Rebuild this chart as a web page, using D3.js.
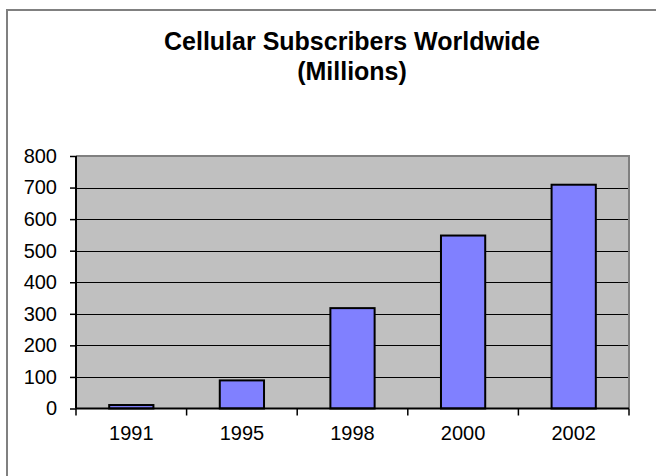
<!DOCTYPE html>
<html><head><meta charset="utf-8">
<script src="https://cdn.jsdelivr.net/npm/d3@7"></script>
<style>body{margin:0;background:#fff}svg{display:block}</style>
</head><body>
<script>
const categories = ["1991","1995","1998","2000","2002"];
const values = [11, 89, 318, 548, 709];
const yTicks = [0,100,200,300,400,500,600,700,800];
const titleLines = ["Cellular Subscribers Worldwide","(Millions)"];

const W = 656, H = 476;
const svg = d3.select("body").append("svg").attr("width", W).attr("height", H);
svg.append("rect").attr("x",0).attr("y",0).attr("width",W).attr("height",H).attr("fill","#fff");
// outer chart border
svg.append("rect").attr("x",7).attr("y",10).attr("width",W+10).attr("height",H+10)
  .attr("fill","none").attr("stroke","#808080").attr("stroke-width",2);

const L = 76, R = 629, T = 156, B = 408.5;
const x = d3.scaleBand().domain(categories).range([L,R]).paddingInner(0.6).paddingOuter(0.3);
const xb = d3.scaleBand().domain(categories).range([L,R]);
const y = d3.scaleLinear().domain([0,800]).range([B,T]);

svg.append("rect").attr("x",L).attr("y",T).attr("width",R-L).attr("height",B-T).attr("fill","#c0c0c0");
// gridlines
svg.append("g").selectAll("line").data(yTicks.filter(d=>d>0)).join("line")
  .attr("x1",L).attr("x2",R).attr("y1",d=>Math.round(y(d))+0.5).attr("y2",d=>Math.round(y(d))+0.5)
  .attr("stroke","#000").attr("stroke-width",1);
// plot border top/right gray
svg.append("path").attr("d",`M${L},${T}H${R}V${B}`).attr("fill","none").attr("stroke","#808080").attr("stroke-width",2);

// bars
svg.append("g").selectAll("rect").data(values).join("rect")
  .attr("x",(d,i)=>x(categories[i])).attr("width",x.bandwidth())
  .attr("y",d=>y(d)).attr("height",d=>B-y(d))
  .attr("fill","#8080ff").attr("stroke","#000").attr("stroke-width",2);

// y axis
const yAxis = d3.axisLeft(y).tickValues(yTicks).tickSize(6).tickPadding(13);
const gy = svg.append("g").attr("transform",`translate(${L},0)`).call(yAxis);
gy.select(".domain").attr("stroke","#000").attr("stroke-width",2).attr("d",`M0,${T}V${B}`);
gy.selectAll(".tick line").attr("stroke","#000").attr("stroke-width",1.5);
gy.selectAll("text").attr("font-family","Liberation Sans, Arial, sans-serif").attr("font-size",20).attr("fill","#000");

// x axis
const gx = svg.append("g").attr("transform",`translate(0,${B})`);
gx.append("line").attr("x1",L).attr("x2",R).attr("stroke","#000").attr("stroke-width",2);
gx.selectAll("line.t").data(categories.concat(["end"])).join("line").attr("class","t")
  .attr("x1",(d,i)=>i<categories.length?xb(d):R).attr("x2",(d,i)=>i<categories.length?xb(d):R)
  .attr("y1",0).attr("y2",7).attr("stroke","#000").attr("stroke-width",1.5);
gx.selectAll("text").data(categories).join("text")
  .attr("x",d=>xb(d)+xb.bandwidth()/2).attr("y",31).attr("text-anchor","middle")
  .attr("font-family","Liberation Sans, Arial, sans-serif").attr("font-size",20).attr("fill","#000")
  .text(d=>d);

// title
svg.append("g").selectAll("text").data(titleLines).join("text")
  .attr("x",352).attr("y",(d,i)=>50+i*30).attr("text-anchor","middle")
  .attr("font-family","Liberation Sans, Arial, sans-serif").attr("font-weight","bold").attr("font-size",25)
  .attr("fill","#000").text(d=>d);
</script>
</body></html>
